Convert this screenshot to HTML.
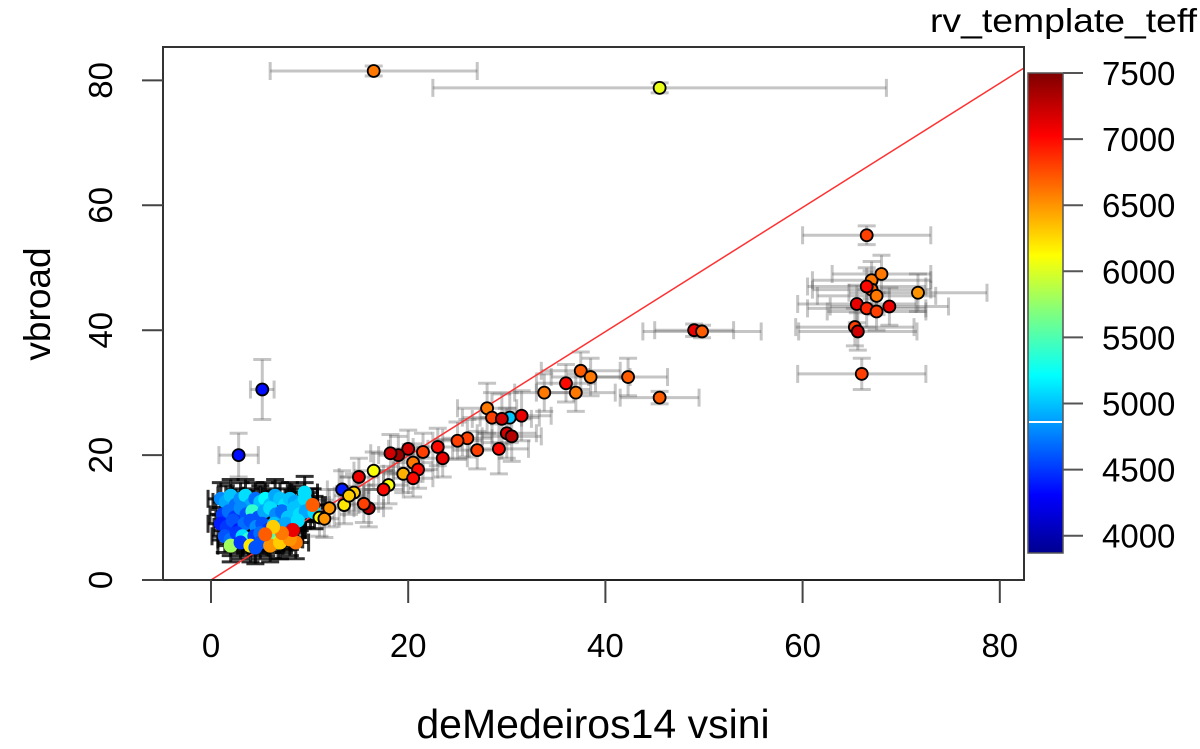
<!DOCTYPE html>
<html><head><meta charset="utf-8"><style>
html,body{margin:0;padding:0;background:#fff;}
svg{display:block;font-family:"Liberation Sans",sans-serif;}
</style></head><body>
<svg id="chart" width="1200" height="749" viewBox="0 0 1200 749" xmlns="http://www.w3.org/2000/svg">
<defs><clipPath id="clip"><rect x="163" y="47" width="861" height="533"/></clipPath>
<linearGradient id="jet" x1="0" y1="1" x2="0" y2="0">
<stop offset="0" stop-color="#00008f"/><stop offset="0.12" stop-color="#0000ff"/><stop offset="0.37" stop-color="#00ffff"/><stop offset="0.5" stop-color="#7fff7f"/><stop offset="0.62" stop-color="#ffff00"/><stop offset="0.87" stop-color="#ff0000"/><stop offset="1" stop-color="#7f0000"/></linearGradient></defs>
<g id="errs" clip-path="url(#clip)"></g>
<line x1="211" y1="580" x2="1024" y2="68" stroke="#ff3030" stroke-width="1.5" clip-path="url(#clip)"/>
<g id="pts" clip-path="url(#clip)"></g>
<rect x="163" y="47" width="861" height="533" fill="none" stroke="#333" stroke-width="2"/>
<g id="axes"></g>
<text x="593" y="738" font-size="41" text-anchor="middle">deMedeiros14 vsini</text>
<text x="50" y="304" font-size="37" text-anchor="middle" transform="rotate(-90 50 304)">vbroad</text>
<text x="930" y="32" font-size="33" textLength="267" lengthAdjust="spacingAndGlyphs">rv_template_teff</text>
<rect x="1028" y="73" width="35" height="480" fill="url(#jet)" stroke="#555" stroke-width="1.5"/>
<g id="cbar"></g>
</svg>
<script>
const xTicks=[0,20,40,60,80];
const yTicks=[0,20,40,60,80];
const cTicks=[4000,4500,5000,5500,6000,6500,7000,7500];
const cMarker=4860;
// outlier / sparse points: vsini, vbroad, teff, x-error, y-error
const xs=[16.5,45.5,5.2,2.8,66.5,49,49.8,45.5,66,67,68,67,71.7,67.5,65.5,66.5,67.5,68.8,65.3,65.6,66.5,37.5,38.5,42.3,36,37,33.8,28,28.5,30.3,29.5,31.5,30,29.2,30.5,27,26,25,23,23.5,21.5,20,19,18.2,20.5,21,19.5,20.5,18,17.5,15,16.5,16,15.5,14.5,13.3,13.5,14,12,11,11.5];
const ys=[81.5,78.8,30.5,20,55.2,40,39.8,29.2,33,48,49,46.5,46,45.5,44.2,43.5,43,43.8,40.5,39.8,47,33.5,32.5,32.5,31.5,30,30,27.5,26,26,25.8,26.3,23.5,21,23,20.8,22.7,22.3,21.3,19.5,20.5,21,20,20.3,18.8,17.7,17,16.3,15.2,14.5,16.5,17.5,11.5,12.2,14,14.5,12,13.5,11.5,10,9.8];
const ts=[6600,6050,4350,4350,6800,7100,6700,6700,6800,6600,6600,6700,6500,6600,7100,6900,6800,7100,6800,7200,7000,6700,6600,6700,7000,6600,6600,6600,6800,5000,7200,7100,7200,7000,7300,6800,6800,6800,7000,7100,6800,7200,7400,7200,6600,7000,6400,7000,6100,7000,7100,6100,7300,6800,6300,4400,6200,6300,6500,6100,6500];
const xe=[10.5,23,1.2,2,6.5,4,6,4,6.5,6,5,6,7,6,6,6,5,6,6,6,6,4,4,4,3,4,3,3,3,3,3,3,3,3,3,2.5,2.5,2.5,2.5,2.5,2,2,2,2,2,2,2,2,2,2,2,2,1.5,1.5,1.5,1.5,1.5,1.5,1.5,1.5,1.5];
const ye=[0.8,0.8,4.8,3.5,1.5,1,1,1,2.5,3,3,3,3,3,3,3,3,3,3,3,3,3,3,3,3,3,3,4,4,4,4,4,4,4,4,3,3,3,3,3,3,3,3,3,3,3,3,3,3,3,3,3,3,3,3,3,3,3,3,3,3];
// dense low-vsini cluster
const cx=[1,1.5,2,2.5,3,3.5,4,4.5,5,5.5,6,6.5,7,7.5,8,8.5,9,9.5,10,1.2,1.8,2.4,3,3.6,4.2,4.8,5.4,6,6.6,7.2,7.8,8.4,9,9.6,10.5,1,1.6,2.2,2.8,3.4,4,4.6,5.2,5.8,6.4,7,7.6,8.2,8.8,1.4,2,2.6,3.2,3.8,4.4,5,5.6,6.2,6.8,7.4,8,8.6,2,3,4,5,6,7,8,8.3,7.2,6.3,5.5,9.5,10.3,4.5];
const cy=[13,12.5,13.5,12,13,13.5,12,13,12.5,13,12,13.5,13,12,13,12.5,12,13,12,10.5,11,10,11.5,10.5,11,10,11,11.5,10.5,11,10,11.5,10.5,11,10.8,9,8.5,9.5,8,9,9.5,8.5,9,8,9,8.5,9,8,9.5,7,6.5,7.5,7,6.5,7,7.5,6.5,7,6,7,7.5,6,5.5,6,5.5,6,5.5,6,6.5,8,7.5,8.5,7.3,14,12,5.2];
const ct=[4800,4900,5000,4700,4800,5100,4900,4700,5000,5200,5000,4900,5000,5100,5000,4900,5000,5100,5100,4500,4700,4500,4800,4600,5400,4600,4900,5100,4800,4700,5000,5000,5100,4900,5100,4400,4500,4600,4400,4700,4600,4800,4600,4500,5000,4800,4900,4600,5100,4600,4700,4500,5100,5400,4500,4700,6000,5500,5800,6200,6500,6600,5800,4500,6200,4600,6500,6300,6500,7100,6600,6300,6700,5100,6700,4600];

const X=v=>211+v*9.86, Y=v=>580-v*6.245;
const NS='http://www.w3.org/2000/svg';
function mk(tag,attrs,parent){const e=document.createElementNS(NS,tag);for(const k in attrs)e.setAttribute(k,attrs[k]);parent.appendChild(e);return e;}
const jetStops=[[0,[0,0,143]],[0.12,[0,0,255]],[0.37,[0,255,255]],[0.5,[127,255,127]],[0.62,[255,255,0]],[0.87,[255,0,0]],[1,[127,0,0]]];
function col(t){let f=(t-3870)/(7500-3870);f=Math.max(0,Math.min(1,f));
 for(let i=1;i<jetStops.length;i++){if(f<=jetStops[i][0]){const a=jetStops[i-1],b=jetStops[i],u=(f-a[0])/(b[0]-a[0]);
 return 'rgb('+a[1].map((c,j)=>Math.round(c+(b[1][j]-c)*u)).join(',')+')';}}return 'rgb(127,0,0)';}
const errs=document.getElementById('errs'),pts=document.getElementById('pts');
function errbar(x,y,ex,ey,stroke,w){
 const g=mk('g',{stroke:stroke,'stroke-width':w,fill:'none'},errs);
 
 
 mk('line',{x1:X(x-ex),x2:X(x+ex),y1:Y(y),y2:Y(y)},g);
 mk('line',{x1:X(x),x2:X(x),y1:Y(y-ey),y2:Y(y+ey)},g);
 mk('line',{x1:X(x-ex),x2:X(x-ex),y1:Y(y)-9,y2:Y(y)+9},g);
 mk('line',{x1:X(x+ex),x2:X(x+ex),y1:Y(y)-9,y2:Y(y)+9},g);
 mk('line',{x1:X(x)-9,x2:X(x)+9,y1:Y(y-ey),y2:Y(y-ey)},g);
 mk('line',{x1:X(x)-9,x2:X(x)+9,y1:Y(y+ey),y2:Y(y+ey)},g);
}
for(let i=0;i<xs.length;i++)errbar(xs[i],ys[i],xe[i],ye[i],'rgba(90,90,90,0.35)',3);
for(let i=0;i<cx.length;i++)errbar(cx[i],cy[i],1.3,2.6,'rgba(0,0,0,0.8)',3);
for(let i=0;i<cx.length;i++){const c=mk('circle',{cx:X(cx[i]),cy:Y(cy[i]),r:6.5,fill:col(ct[i]),stroke:col(ct[i]),'stroke-width':1},pts);
 
 }
for(let i=0;i<xs.length;i++){const c=mk('circle',{cx:X(xs[i]),cy:Y(ys[i]),r:6,fill:col(ts[i]),stroke:'#000','stroke-width':1.8},pts);
 
 }
const axes=document.getElementById('axes');
const xa=mk('line',{x1:X(0),x2:X(80),y1:580,y2:580,stroke:'#222','stroke-width':2},axes);


xTicks.forEach(v=>{mk('line',{x1:X(v),x2:X(v),y1:580,y2:603,stroke:'#444','stroke-width':2},axes);
 const t=mk('text',{x:X(v),y:657,'font-size':33,'text-anchor':'middle'},axes);t.textContent=v;
 
 });
yTicks.forEach(v=>{mk('line',{x1:142,x2:163,y1:Y(v),y2:Y(v),stroke:'#444','stroke-width':2},axes);
 const t=mk('text',{x:0,y:0,'font-size':33,'text-anchor':'middle',transform:'translate(112,'+Y(v)+') rotate(-90)'},axes);t.textContent=v;
 
 });
const cb=document.getElementById('cbar');
const CY=v=>73+(7500-v)*0.1322;
cTicks.forEach(v=>{mk('line',{x1:1063,x2:1083,y1:CY(v),y2:CY(v),stroke:'#555','stroke-width':2},cb);
 const t=mk('text',{x:1102,y:CY(v)+12,'font-size':33},cb);t.textContent=v;
 
 });
const m=mk('line',{x1:1029,x2:1062,y1:CY(cMarker),y2:CY(cMarker),stroke:'#fff','stroke-width':2},cb);


</script>
</body></html>
